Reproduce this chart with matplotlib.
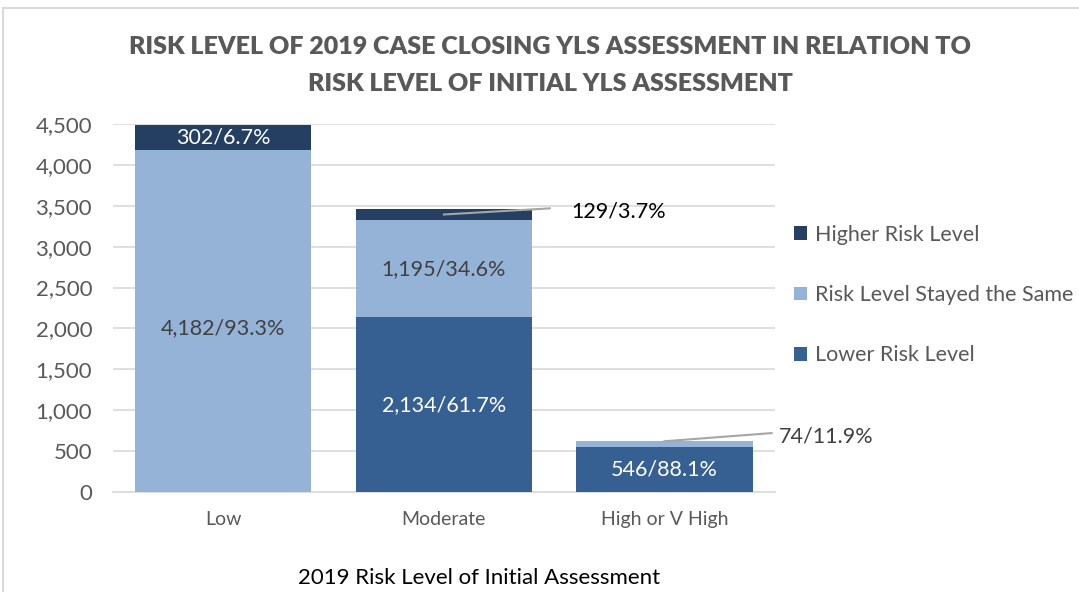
import numpy as np
import matplotlib.pyplot as plt
from matplotlib.patches import Rectangle

categories = ['Low', 'Moderate', 'High or V High']
lower = [0, 2134, 546]
same = [4182, 1195, 74]
higher = [302, 129, 0]
lower_lbl = ['', '2,134/61.7%', '546/88.1%']
same_lbl = ['4,182/93.3%', '1,195/34.6%', '74/11.9%']
higher_lbl = ['302/6.7%', '129/3.7%', '']
title_lines = ['RISK LEVEL OF 2019 CASE CLOSING YLS ASSESSMENT IN RELATION TO',
               'RISK LEVEL OF INITIAL YLS ASSESSMENT']

c_low = '#366092'
c_same = '#95b3d7'
c_high = '#243f61'
grey = '#595959'
dark = '#404040'

plt.rcParams['font.family'] = ['Lato', 'DejaVu Sans']

fig = plt.figure(figsize=(10.79, 5.92), dpi=100)
ax = fig.add_axes([0.1047, 0.169, 0.6133, 0.6215])
x = np.arange(len(categories))
w = 0.8
lower = np.array(lower)
same = np.array(same)
higher = np.array(higher)
ax.bar(x, lower, w, color=c_low, label='Lower Risk Level', zorder=3)
ax.bar(x, same, w, bottom=lower, color=c_same, label='Risk Level Stayed the Same', zorder=3)
ax.bar(x, higher, w, bottom=lower + same, color=c_high, label='Higher Risk Level', zorder=3)

fs = 15.5
# labels inside segments
ax.text(x[0], same[0] + higher[0] / 2, higher_lbl[0], ha='center', va='center', color='white', fontsize=fs, zorder=4)
ax.text(x[0], same[0] * 0.48, same_lbl[0], ha='center', va='center', color=dark, fontsize=fs, zorder=4)
ax.text(x[1], lower[1] + same[1] / 2, same_lbl[1], ha='center', va='center', color=dark, fontsize=fs, zorder=4)
ax.text(x[1], lower[1] / 2, lower_lbl[1], ha='center', va='center', color='white', fontsize=fs, zorder=4)
ax.text(x[2], lower[2] / 2, lower_lbl[2], ha='center', va='center', color='white', fontsize=fs, zorder=4)

# callouts with leader lines
top1 = lower[1] + same[1] + higher[1] / 2
ax.plot([x[1], x[1] + 0.48], [top1, top1 + 75], color='#a6a6a6', lw=1.5, zorder=5, clip_on=False)
ax.text(x[1] + 0.58, top1 + 40, higher_lbl[1], ha='left', va='center', fontsize=fs, color='black')
top2 = lower[2] + same[2]
ax.plot([x[2], x[2] + 0.486], [top2, top2 + 100], color='#a6a6a6', lw=1.5, zorder=5, clip_on=False)
ax.text(x[2] + 0.52, top2 + 55, same_lbl[2], ha='left', va='center', fontsize=fs, color=dark)

ax.set_xlim(-0.5, 2.5)
ax.set_ylim(0, 4500)
ax.set_yticks(np.arange(0, 4501, 500))
ax.set_yticklabels([f'{v:,}' for v in range(0, 4501, 500)])
ax.set_xticks(x)
ax.set_xticklabels(categories)
ax.tick_params(axis='y', length=0, labelsize=16, colors=grey, pad=15)
ax.tick_params(axis='x', length=0, labelsize=14, colors=grey, pad=14)
ax.grid(axis='y', color='#d9d9d9', lw=1.2, zorder=0)
for s in ['top', 'right', 'left']:
    ax.spines[s].set_visible(False)
ax.spines['bottom'].set_color('#d9d9d9')
ax.spines['bottom'].set_linewidth(1.2)

handles, labels = ax.get_legend_handles_labels()
leg = fig.legend(handles[::-1], labels[::-1], loc='center left', bbox_to_anchor=(0.736, 0.5017),
                 frameon=False, fontsize=fs, labelspacing=1.88, handlelength=0.6, handleheight=0.6,
                 handletextpad=0.35, borderaxespad=0, borderpad=0)
for t in leg.get_texts():
    t.set_color(grey)

fig.text(0.51, 0.9206, title_lines[0], ha='center', va='center', fontsize=18, fontweight='heavy', color=grey)
fig.text(0.51, 0.858, title_lines[1], ha='center', va='center', fontsize=18, fontweight='heavy', color=grey)
fig.text(0.444, 0.024, '2019 Risk Level of Initial Assessment', ha='center', va='center', fontsize=16, color='black')

fig.patches.append(Rectangle((3 / 1079, -0.1), 1.2, (592 - 8) / 592 + 0.1, transform=fig.transFigure,
                             fill=False, edgecolor='#d9d9d9', lw=1.5))

fig.savefig('out.png', dpi=100)
